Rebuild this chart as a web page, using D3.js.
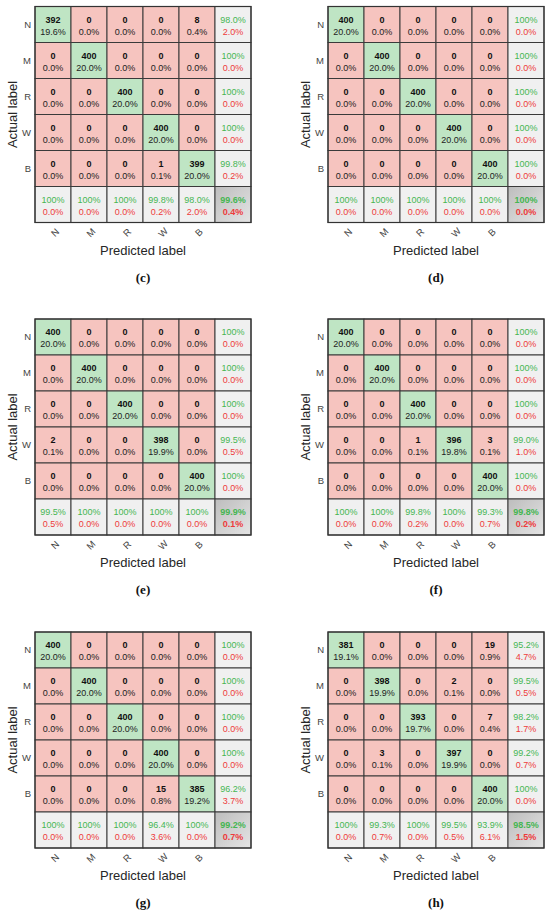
<!DOCTYPE html>
<html>
<head>
<meta charset="utf-8">
<script src="https://cdn.jsdelivr.net/npm/d3@7"></script>
<style>
  body { margin: 0; background: #fff; }
  svg { display: block; font-family: "Liberation Sans", Arial, sans-serif; }
</style>
</head>
<body>
<div id="chart"></div>
<script>
// class labels, used for rows (actual) and columns (predicted)
var classes = ["N", "M", "R", "W", "B"];
var panelNames = ["(c)", "(d)", "(e)", "(f)", "(g)", "(h)"];

// counts per panel (rows = actual, cols = predicted)
var countsC = [[392,0,0,0,8],[0,400,0,0,0],[0,0,400,0,0],[0,0,0,400,0],[0,0,0,1,399]];
var countsD = [[400,0,0,0,0],[0,400,0,0,0],[0,0,400,0,0],[0,0,0,400,0],[0,0,0,0,400]];
var countsE = [[400,0,0,0,0],[0,400,0,0,0],[0,0,400,0,0],[2,0,0,398,0],[0,0,0,0,400]];
var countsF = [[400,0,0,0,0],[0,400,0,0,0],[0,0,400,0,0],[0,0,1,396,3],[0,0,0,0,400]];
var countsG = [[400,0,0,0,0],[0,400,0,0,0],[0,0,400,0,0],[0,0,0,400,0],[0,0,0,15,385]];
var countsH = [[381,0,0,0,19],[0,398,0,2,0],[0,0,393,0,7],[0,3,0,397,0],[0,0,0,0,400]];

// percentages as printed in the cells
var pctC = [["19.6","0.0","0.0","0.0","0.4"],["0.0","20.0","0.0","0.0","0.0"],["0.0","0.0","20.0","0.0","0.0"],["0.0","0.0","0.0","20.0","0.0"],["0.0","0.0","0.0","0.1","20.0"]];
var pctD = [["20.0","0.0","0.0","0.0","0.0"],["0.0","20.0","0.0","0.0","0.0"],["0.0","0.0","20.0","0.0","0.0"],["0.0","0.0","0.0","20.0","0.0"],["0.0","0.0","0.0","0.0","20.0"]];
var pctE = [["20.0","0.0","0.0","0.0","0.0"],["0.0","20.0","0.0","0.0","0.0"],["0.0","0.0","20.0","0.0","0.0"],["0.1","0.0","0.0","19.9","0.0"],["0.0","0.0","0.0","0.0","20.0"]];
var pctF = [["20.0","0.0","0.0","0.0","0.0"],["0.0","20.0","0.0","0.0","0.0"],["0.0","0.0","20.0","0.0","0.0"],["0.0","0.0","0.1","19.8","0.1"],["0.0","0.0","0.0","0.0","20.0"]];
var pctG = [["20.0","0.0","0.0","0.0","0.0"],["0.0","20.0","0.0","0.0","0.0"],["0.0","0.0","20.0","0.0","0.0"],["0.0","0.0","0.0","20.0","0.0"],["0.0","0.0","0.0","0.8","19.2"]];
var pctH = [["19.1","0.0","0.0","0.0","0.9"],["0.0","19.9","0.0","0.1","0.0"],["0.0","0.0","19.7","0.0","0.4"],["0.0","0.1","0.0","19.9","0.0"],["0.0","0.0","0.0","0.0","20.0"]];

// right-hand column (per actual class): correct / wrong
var rowOkC = ["98.0%","100%","100%","100%","99.8%"], rowBadC = ["2.0%","0.0%","0.0%","0.0%","0.2%"];
var rowOkD = ["100%","100%","100%","100%","100%"],   rowBadD = ["0.0%","0.0%","0.0%","0.0%","0.0%"];
var rowOkE = ["100%","100%","100%","99.5%","100%"],  rowBadE = ["0.0%","0.0%","0.0%","0.5%","0.0%"];
var rowOkF = ["100%","100%","100%","99.0%","100%"],  rowBadF = ["0.0%","0.0%","0.0%","1.0%","0.0%"];
var rowOkG = ["100%","100%","100%","100%","96.2%"],  rowBadG = ["0.0%","0.0%","0.0%","0.0%","3.7%"];
var rowOkH = ["95.2%","99.5%","98.2%","99.2%","100%"], rowBadH = ["4.7%","0.5%","1.7%","0.7%","0.0%"];

// bottom row (per predicted class) plus the overall cell at the end
var colOkC = ["100%","100%","100%","99.8%","98.0%","99.6%"], colBadC = ["0.0%","0.0%","0.0%","0.2%","2.0%","0.4%"];
var colOkD = ["100%","100%","100%","100%","100%","100%"],    colBadD = ["0.0%","0.0%","0.0%","0.0%","0.0%","0.0%"];
var colOkE = ["99.5%","100%","100%","100%","100%","99.9%"],  colBadE = ["0.5%","0.0%","0.0%","0.0%","0.0%","0.1%"];
var colOkF = ["100%","100%","99.8%","100%","99.3%","99.8%"], colBadF = ["0.0%","0.0%","0.2%","0.0%","0.7%","0.2%"];
var colOkG = ["100%","100%","100%","96.4%","100%","99.2%"],  colBadG = ["0.0%","0.0%","0.0%","3.6%","0.0%","0.7%"];
var colOkH = ["100%","99.3%","100%","99.5%","93.9%","98.5%"], colBadH = ["0.0%","0.7%","0.0%","0.5%","6.1%","1.5%"];

(function () {
    var W = 550, H = 913;
    var size = 216;                       // grid is 6 x 6 cells of 36px
    var origins = [[35, 6.5], [328, 6.5], [35, 319], [328, 319], [35, 632], [328, 632]];

    var panels = [
        { counts: countsC, pct: pctC, rowOk: rowOkC, rowBad: rowBadC, colOk: colOkC, colBad: colBadC },
        { counts: countsD, pct: pctD, rowOk: rowOkD, rowBad: rowBadD, colOk: colOkD, colBad: colBadD },
        { counts: countsE, pct: pctE, rowOk: rowOkE, rowBad: rowBadE, colOk: colOkE, colBad: colBadE },
        { counts: countsF, pct: pctF, rowOk: rowOkF, rowBad: rowBadF, colOk: colOkF, colBad: colBadF },
        { counts: countsG, pct: pctG, rowOk: rowOkG, rowBad: rowBadG, colOk: colOkG, colBad: colBadG },
        { counts: countsH, pct: pctH, rowOk: rowOkH, rowBad: rowBadH, colOk: colOkH, colBad: colBadH }
    ];

    var svg = d3.select('#chart')
                .append('svg')
                .attr('width', W)
                .attr('height', H);

    var defs = svg.append('defs');
    var grad = defs.append('linearGradient')
                   .attr('id', 'totalGrad')
                   .attr('x1', '0').attr('y1', '0').attr('x2', '1').attr('y2', '1');
    grad.append('stop').attr('offset', '0%').attr('stop-color', '#bdbdbd');
    grad.append('stop').attr('offset', '100%').attr('stop-color', '#e4e4e4');

    var keys = classes.concat(['sum']);
    var xScale = d3.scaleBand().domain(keys).range([0, size]);
    var yScale = d3.scaleBand().domain(keys).range([0, size]);
    var bw = xScale.bandwidth();

    var green = '#bfe5c4', red = '#f6c4bf', grey = '#f0f0f0';
    var okText = '#45b652', badText = '#ee3b3b';

    panels.forEach(function (p, k) {
        var g = svg.append('g')
                   .attr('transform', 'translate(' + origins[k][0] + ',' + origins[k][1] + ')');

        // build the cell list from the arrays
        var cells = [];
        classes.forEach(function (a, i) {
            classes.forEach(function (b, j) {
                cells.push({ r: a, c: b, kind: i === j ? 'diag' : 'off', top: String(p.counts[i][j]), bottom: p.pct[i][j] + '%' });
            });
            cells.push({ r: a, c: 'sum', kind: 'sum', top: p.rowOk[i], bottom: p.rowBad[i] });
        });
        keys.forEach(function (b, j) {
            cells.push({ r: 'sum', c: b, kind: j === 5 ? 'total' : 'sum', top: p.colOk[j], bottom: p.colBad[j] });
        });

        var cell = g.selectAll('g.cell')
                    .data(cells)
                    .enter()
                    .append('g')
                    .attr('class', 'cell')
                    .attr('transform', function (d) { return 'translate(' + xScale(d.c) + ',' + yScale(d.r) + ')'; });

        cell.append('rect')
            .attr('width', bw)
            .attr('height', bw)
            .attr('fill', function (d) {
                if (d.kind === 'diag') return green;
                if (d.kind === 'off') return red;
                if (d.kind === 'total') return 'url(#totalGrad)';
                return grey;
            })
            .attr('stroke', '#3a3a3a')
            .attr('stroke-width', 1);

        cell.append('text')
            .attr('x', bw / 2)
            .attr('y', 16)
            .attr('text-anchor', 'middle')
            .style('font-size', '9px')
            .style('font-weight', function (d) { return (d.kind === 'diag' || d.kind === 'off' || d.kind === 'total') ? 'bold' : 'normal'; })
            .attr('fill', function (d) { return (d.kind === 'diag' || d.kind === 'off') ? '#111' : okText; })
            .text(function (d) { return d.top; });

        cell.append('text')
            .attr('x', bw / 2)
            .attr('y', 28)
            .attr('text-anchor', 'middle')
            .style('font-size', '9px')
            .style('font-weight', function (d) { return d.kind === 'total' ? 'bold' : 'normal'; })
            .attr('fill', function (d) { return (d.kind === 'diag' || d.kind === 'off') ? '#222' : badText; })
            .text(function (d) { return d.bottom; });

        // outer frame a bit heavier
        g.append('rect')
         .attr('width', size)
         .attr('height', size)
         .attr('fill', 'none')
         .attr('stroke', '#333')
         .attr('stroke-width', 1.2);

        // row labels
        var yAxis = g.append('g')
                     .attr('class', 'y axis')
                     .call(d3.axisLeft(yScale).tickSize(0).tickPadding(4)
                           .tickFormat(function (d) { return d === 'sum' ? '' : d; }));
        yAxis.select('.domain').remove();
        yAxis.selectAll('text').style('font-size', '9.5px').attr('fill', '#444');

        // column labels, turned 45 degrees
        var xAxis = g.append('g')
                     .attr('class', 'x axis')
                     .attr('transform', 'translate(0,' + size + ')')
                     .call(d3.axisBottom(xScale).tickSize(0).tickPadding(0)
                           .tickFormat(function (d) { return d === 'sum' ? '' : d; }));
        xAxis.select('.domain').remove();
        xAxis.selectAll('text')
             .attr('transform', 'translate(2,10) rotate(-45)')
             .attr('dy', '0.35em')
             .style('text-anchor', 'middle')
             .style('font-size', '9.5px')
             .attr('fill', '#444');

        // axis titles
        g.append('text')
         .attr('transform', 'translate(-18,' + (size / 2) + ') rotate(-90)')
         .attr('text-anchor', 'middle')
         .style('font-size', '13px')
         .attr('fill', '#262626')
         .text('Actual label');

        g.append('text')
         .attr('x', size / 2)
         .attr('y', size + 32)
         .attr('text-anchor', 'middle')
         .style('font-size', '13px')
         .attr('fill', '#262626')
         .text('Predicted label');

        // sub-figure caption
        g.append('text')
         .attr('x', size / 2)
         .attr('y', size + 59)
         .attr('text-anchor', 'middle')
         .style('font-family', '"Liberation Serif", "Times New Roman", serif')
         .style('font-weight', 'bold')
         .style('font-size', '13px')
         .attr('fill', '#111')
         .text(panelNames[k]);
    });
})();
</script>
</body>
</html>
